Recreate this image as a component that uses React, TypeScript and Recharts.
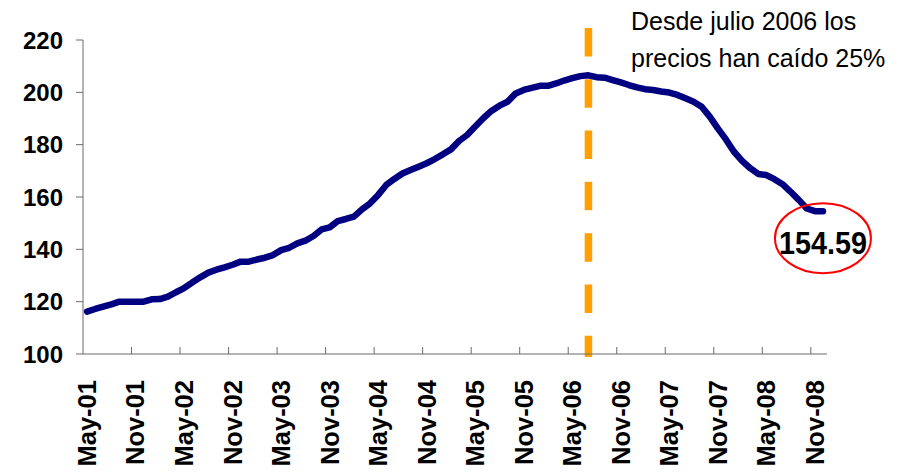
import React from 'react';
import { LineChart, Line, XAxis, YAxis, ReferenceLine, ReferenceDot } from 'recharts';

// monthly index, May-01 .. Dec-08
const monthNames = ['Jan', 'Feb', 'Mar', 'Apr', 'May', 'Jun', 'Jul', 'Aug', 'Sep', 'Oct', 'Nov', 'Dec'];

const indexValues: number[] = [
  116.2, 117.2, 118.1, 119.0, 120.0, 120.0, 120.0, 120.0, 120.9, 121.0,
  121.9, 123.6, 125.2, 127.3, 129.3, 131.1, 132.2, 133.1, 134.1, 135.3,
  135.3, 136.1, 136.8, 137.8, 139.7, 140.6, 142.3, 143.3, 145.1, 147.6,
  148.4, 150.8, 151.6, 152.5, 155.3, 157.6, 160.8, 164.6, 166.9, 169.0,
  170.3, 171.6, 172.9, 174.5, 176.3, 178.2, 181.4, 183.7, 186.9, 190.1,
  192.9, 194.9, 196.4, 199.6, 200.9, 201.7, 202.5, 202.5, 203.4, 204.5,
  205.4, 206.2, 206.5, 205.8, 205.6, 204.7, 203.8, 202.8, 201.9, 201.2,
  200.9, 200.3, 199.9, 199.0, 197.7, 196.4, 194.5, 190.7, 186.2, 182.0,
  177.3, 173.8, 171.0, 168.8, 168.4, 166.8, 164.9, 162.0, 158.9, 155.6,
  154.59, 154.59,
];

const monthLabels: string[] = indexValues.map((_, i) => {
  const m = (4 + i) % 12;
  const yr = 1 + Math.floor((4 + i) / 12);
  return `${monthNames[m]}-${String(yr).padStart(2, '0')}`;
});

const yTicks = [100, 120, 140, 160, 180, 200, 220];
const peakMonth = 'Jul-06';
const lastValueText = '154.59';
const noteLines = ['Desde julio 2006 los', 'precios han caído 25%'];

const data = indexValues.map((v, i) => ({ t: i + 0.5, name: monthLabels[i], value: v }));
const nCats = indexValues.length;
// tick marks sit on category boundaries every 6 months, labels on category centres
const boundaryTicks = monthLabels.map((_, i) => i).filter(i => i % 6 === 0);
const xTicks = boundaryTicks.flatMap(i => [i, i + 0.5]);
const peakX = monthLabels.indexOf(peakMonth) + 0.5;
const lastIdx = nCats - 1;

const FONT = '"Liberation Sans", Arial, Helvetica, sans-serif';
const AXIS = '#6b6b6b';
const LABEL_GAP = 26;

function MonthTick(props: any) {
  const { x, y, payload } = props;
  const v = payload.value;
  if (Number.isInteger(v)) {
    const axisY = y - LABEL_GAP;
    if (v === 0) return <g />;
    return <line x1={x} x2={x} y1={axisY} y2={axisY - 7} stroke={AXIS} strokeWidth={1} />;
  }
  const label = monthLabels[Math.round(v - 0.5)];
  return (
    <text x={x} y={y} dy="0.35em" transform={`rotate(-90, ${x}, ${y})`} textAnchor="end"
      fontFamily={FONT} fontSize={25.5} fontWeight="bold" fill="#000">
      {label}
    </text>
  );
}

function LastValueMark(props: any) {
  const { cx, cy } = props;
  return (
    <g>
      <ellipse cx={cx} cy={cy + 27} rx={48} ry={35} fill="none" stroke="#ff0000" strokeWidth={2} />
      <text x={cx} y={cy + 43} textAnchor="middle" fontFamily={FONT} fontSize={31} fontWeight="bold"
        fill="#000" textLength={88} lengthAdjust="spacingAndGlyphs">
        {lastValueText}
      </text>
    </g>
  );
}

export default function App() {
  return (
    <div style={{ position: 'absolute', left: 0, top: 0, width: 912, height: 472, background: '#fff' }}>
      <LineChart width={912} height={472} data={data} margin={{ top: 40, right: 85, bottom: 0, left: 0 }}>
        <XAxis type="number" dataKey="t" domain={[0, nCats]} ticks={xTicks} interval={0}
          height={118} tickLine={false} tickSize={0} tickMargin={LABEL_GAP} stroke={AXIS} tick={<MonthTick />} />
        <YAxis domain={[100, 220]} ticks={yTicks} width={83} tickSize={7} tickMargin={13} stroke={AXIS}
          tick={{ fontFamily: FONT, fontSize: 24, fontWeight: 'bold', fill: '#000' }} />
        <ReferenceLine ifOverflow="visible"
          segment={[{ x: peakX, y: 224.6 }, { x: peakX, y: 98.9 }]}
          stroke="#ffa000" strokeWidth={7.5} strokeDasharray="28.5 22.8" />
        <Line type="linear" dataKey="value" stroke="#000080" strokeWidth={6.5}
          strokeLinejoin="round" strokeLinecap="round" dot={false} activeDot={false} isAnimationActive={false} />
        <ReferenceDot x={lastIdx + 0.5} y={indexValues[lastIdx]} shape={<LastValueMark />} />
      </LineChart>
      <div style={{ position: 'absolute', left: 631, top: 3, fontFamily: FONT, fontSize: 25, lineHeight: '37px', color: '#000', whiteSpace: 'nowrap' }}>
        {noteLines.map(l => <div key={l}>{l}</div>)}
      </div>
    </div>
  );
}
